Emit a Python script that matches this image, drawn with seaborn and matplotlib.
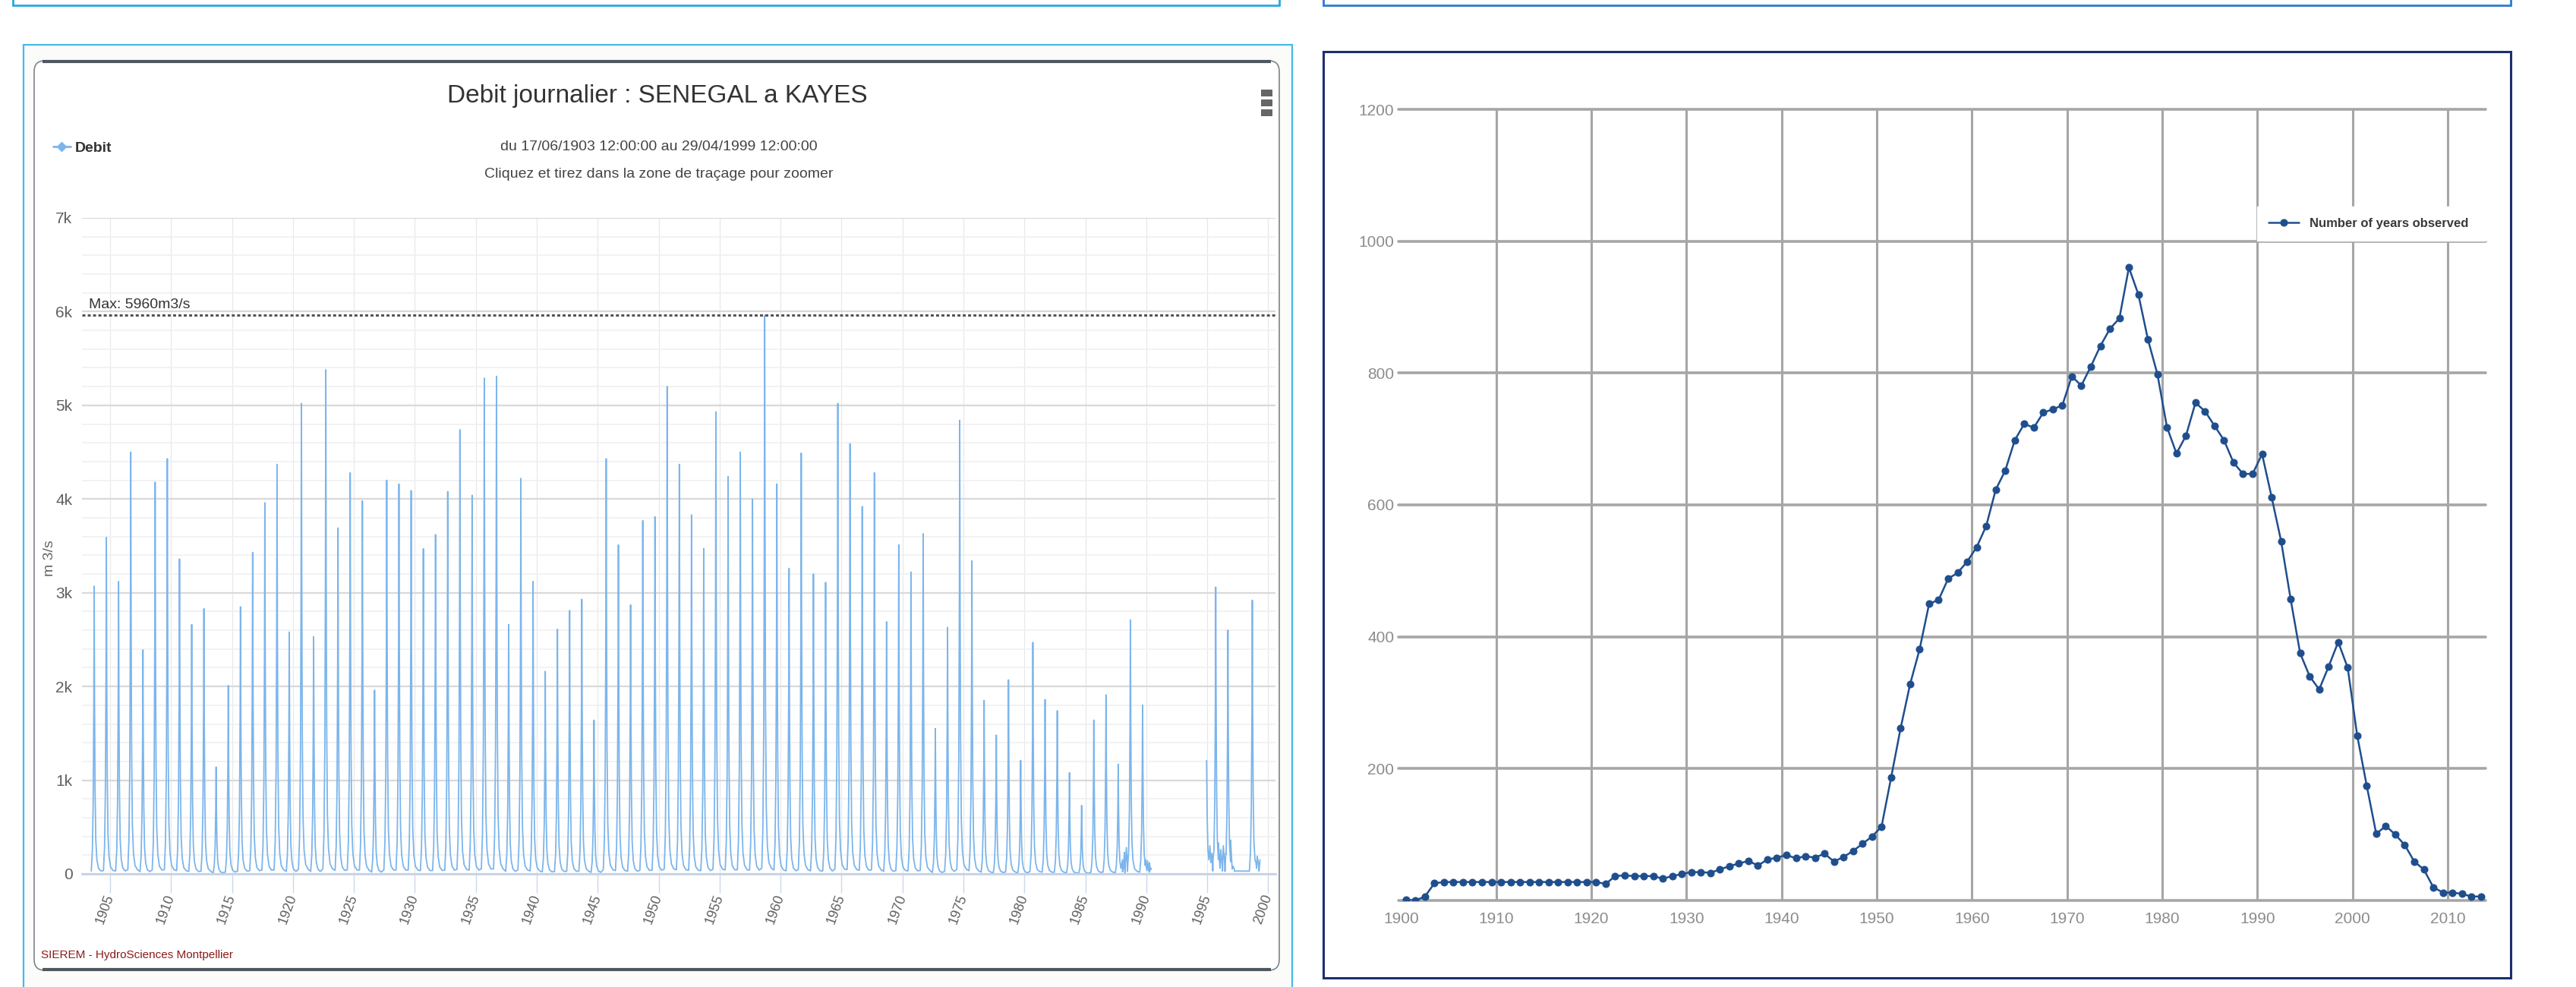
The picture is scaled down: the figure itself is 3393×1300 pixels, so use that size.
import numpy as np
import pandas as pd
import matplotlib
matplotlib.use('Agg')
import matplotlib.pyplot as plt
import seaborn as sns
from matplotlib.patches import Rectangle, FancyBboxPatch
from matplotlib.lines import Line2D
from matplotlib.ticker import MultipleLocator, FuncFormatter

# ---------------- left chart: daily discharge of the Senegal at Kayes ----------------
# annual flood peak (m3/s), read off each spike
flood_year = [1903, 1904, 1905, 1906, 1907, 1908, 1909,
              1910, 1911, 1912, 1913, 1914, 1915, 1916, 1917, 1918, 1919,
              1920, 1921, 1922, 1923, 1924, 1925, 1926, 1927, 1928, 1929,
              1930, 1931, 1932, 1933, 1934, 1935, 1936, 1937, 1938, 1939,
              1940, 1941, 1942, 1943, 1944, 1945, 1946, 1947, 1948, 1949,
              1950, 1951, 1952, 1953, 1954, 1955, 1956, 1957, 1958, 1959,
              1960, 1961, 1962, 1963, 1964, 1965, 1966, 1967, 1968, 1969,
              1970, 1971, 1972, 1973, 1974, 1975, 1976, 1977, 1978, 1979,
              1980, 1981, 1982, 1983, 1984, 1985, 1986, 1987, 1988, 1989,
              1995, 1996, 1998]
flood_peak = [3070, 3590, 3120, 4500, 2390, 4180, 4430,
              3360, 2660, 2830, 1140, 2010, 2850, 3430, 3960, 4370, 2580,
              5020, 2530, 5380, 3690, 4280, 3980, 1960, 4200, 4160, 4090,
              3470, 3620, 4080, 4740, 4040, 5290, 5310, 2660, 4220, 3120,
              2160, 2610, 2810, 2930, 1640, 4430, 3510, 2870, 3770, 3810,
              5200, 4370, 3830, 3470, 4930, 4240, 4500, 4000, 5960, 4160,
              3260, 4490, 3200, 3110, 5020, 4590, 3920, 4280, 2690, 3510,
              3220, 3630, 1550, 2630, 4840, 3340, 1850, 1480, 2070, 1210,
              2470, 1860, 1740, 1080, 730, 1640, 1910, 1170, 2710, 1800,
              3060, 2600, 2920]
max_flow = 5960

# typical yearly hydrograph seen on the spikes: offset from 1 January (years), share of the peak
shape_offset = [0.46, 0.55, 0.62, 0.67, 0.70, 0.73, 0.77, 0.83, 0.92, 1.05, 1.25]
shape_share = [0.01, 0.08, 0.25, 0.60, 1.00, 0.60, 0.30, 0.12, 0.05, 0.02, 0.01]

# noisy low flows at the end of the record (decimal year, m3/s)
noise_t = [1988.05, 1988.13, 1988.21, 1988.29, 1988.37, 1988.45, 1988.53,
           1989.93, 1990.02, 1990.10, 1990.18, 1990.26, 1990.34, 1990.42,
           1994.95, 1995.00, 1995.06, 1995.14, 1995.22, 1995.30, 1995.38, 1995.48,
           1995.92, 1996.02, 1996.12, 1996.22, 1996.32, 1996.42, 1996.52,
           1996.92, 1997.02, 1997.12, 1997.22, 1997.32,
           1998.90, 1999.00, 1999.10, 1999.20, 1999.33]
noise_q = [150, 60, 230, 90, 280, 110, 200,
           150, 60, 140, 50, 120, 40, 60,
           1210, 600, 250, 150, 300, 120, 220, 160,
           330, 120, 260, 90, 300, 140, 220,
           360, 120, 80, 50, 30,
           200, 120, 190, 110, 150]

# ---------------- right chart: number of years observed ----------------
obs_year = list(range(1900, 2014))
obs_count = [1, 0, 6, 26, 28, 28, 28, 28, 28, 28,
             28, 28, 28, 28, 28, 28, 28, 28, 28, 28,
             28, 25, 37, 38, 37, 37, 37, 33, 37, 40,
             43, 43, 42, 47, 52, 56, 60, 53, 62, 65,
             69, 64, 67, 65, 71, 59, 66, 75, 86, 97,
             112, 186, 261, 328, 381, 450, 456, 488, 497, 514,
             536, 568, 623, 652, 698, 723, 717, 740, 745, 751,
             795, 781, 810, 841, 867, 883, 960, 919, 851, 798,
             718, 678, 705, 755, 742, 720, 698, 664, 647, 647,
             677, 612, 545, 457, 375, 340, 320, 355, 392, 353,
             250, 174, 101, 113, 100, 84, 59, 47, 20, 12,
             12, 10, 6, 6]
obs_ticks = list(range(1900, 2011, 10))

# build the daily-like series
rows = []
for y, p in zip(flood_year, flood_peak):
    for o, s in zip(shape_offset, shape_share):
        rows.append((y + o, s * p))
rows += list(zip(noise_t, noise_q))
flow = pd.DataFrame(rows, columns=['t', 'q']).sort_values('t')
flow['seg'] = np.where(flow['t'] < 1992, 'a', 'b')

sns.set_theme(style='white')
plt.rcParams['font.family'] = ['Liberation Sans', 'DejaVu Sans']

W, H = 3393, 1300
fig = plt.figure(figsize=(W / 100, H / 100), dpi=100)

# background layer in pixel coordinates
bg = fig.add_axes([0, 0, 1, 1])
bg.set_xlim(0, W)
bg.set_ylim(H, 0)
bg.axis('off')
bg.set_zorder(0)

bg.add_patch(Rectangle((17, -30), 1668, 37, fill=False, edgecolor='#27a9e1', lw=2))
bg.add_patch(Rectangle((1743, -30), 1564, 37, fill=False, edgecolor='#2b7bd1', lw=2))
bg.add_patch(Rectangle((31, 59), 1671, 1300, facecolor='#fbfbfa', edgecolor='#45b9ea', lw=1.6))
bg.add_patch(FancyBboxPatch((45, 80), 1640, 1198, boxstyle='round,pad=0,rounding_size=14',
                            facecolor='white', edgecolor='#7d848b', lw=1.2))
bg.plot([56, 1674], [81, 81], color='#4e5760', lw=3, solid_capstyle='butt')
bg.plot([56, 1674], [1277, 1277], color='#4e5760', lw=3, solid_capstyle='butt')
bg.add_patch(Rectangle((1743, 68), 1564, 1220, facecolor='white', edgecolor='#1c2f6e', lw=2.2))

bg.text(866, 127, 'Debit journalier : SENEGAL a KAYES', ha='center', va='center',
        fontsize=24, color='#333333')
bg.text(868, 193, 'du 17/06/1903 12:00:00 au 29/04/1999 12:00:00', ha='center', va='center',
        fontsize=14, color='#444444')
bg.text(868, 230, 'Cliquez et tirez dans la zone de traçage pour zoomer', ha='center', va='center',
        fontsize=14, color='#444444')
for yb in [118, 131, 144]:
    bg.add_patch(Rectangle((1661, yb), 15, 9, facecolor='#666666', edgecolor='none'))
bg.text(65, 735, 'm 3/s', rotation=90, ha='center', va='center', fontsize=14, color='#666666')
bg.text(54, 1258, 'SIEREM - HydroSciences Montpellier', ha='left', va='center',
        fontsize=11, color='#8b1a1a')
deb = Line2D([], [], color='#7cb5ec', lw=2, marker='D', markersize=6)
bg.legend([deb], ['Debit'], loc='center left', bbox_to_anchor=(52, 195),
          bbox_transform=bg.transData, frameon=False, handlelength=1.2,
          handletextpad=0.3, prop={'size': 14, 'weight': 'bold'}, labelcolor='#333333')

# ---------------- left axes ----------------
ax1 = fig.add_axes([108 / W, 1 - 1151 / H, 1572 / W, 864 / H])
ax1.set_zorder(1)
ax1.patch.set_alpha(0)
sns.lineplot(data=flow, x='t', y='q', units='seg', estimator=None, sort=False,
             color='#7cb5ec', lw=1.3, ax=ax1, legend=False)
ax1.axhline(max_flow, color='#555555', lw=2.2, ls=(0, (1.3, 1.0)), zorder=3)
ax1.annotate(f'Max: {max_flow}m3/s', xy=(0.006, max_flow), xycoords=('axes fraction', 'data'),
             xytext=(0, 4), textcoords='offset points', va='bottom', fontsize=14, color='#333333')
ax1.set_xlim(1902.7, 2000.6)
ax1.set_ylim(0, 7000)
ax1.set_xticks(list(range(1905, 2001, 5)))
ax1.set_yticks(list(range(0, 7001, 1000)))
ax1.yaxis.set_major_formatter(FuncFormatter(lambda v, _: '0' if v == 0 else f'{int(v / 1000)}k'))
ax1.yaxis.set_minor_locator(MultipleLocator(200))
ax1.grid(axis='y', which='major', color='#d9d9d9', lw=1.6)
ax1.grid(axis='y', which='minor', color='#f0f0f0', lw=1.2)
ax1.grid(axis='x', which='major', color='#e8e8e8', lw=0.9)
ax1.tick_params(axis='y', which='both', length=0, pad=9, labelsize=15, labelcolor='#606060')
ax1.tick_params(axis='x', length=18, width=1, color='#ccd6eb', direction='out', pad=2,
                labelsize=13, labelcolor='#606060', bottom=True)
for lab in ax1.get_xticklabels():
    lab.set_rotation(70)
    lab.set_ha('right')
    lab.set_va('center')
    lab.set_rotation_mode('anchor')
for s in ['top', 'right', 'left']:
    ax1.spines[s].set_visible(False)
ax1.spines['bottom'].set_color('#c8d2e6')
ax1.spines['bottom'].set_linewidth(2)
ax1.set_xlabel('')
ax1.set_ylabel('')

# ---------------- right axes ----------------
ax2 = fig.add_axes([1842 / W, 1 - 1186 / H, 1432 / W, 1042 / H])
ax2.set_zorder(1)
ax2.patch.set_alpha(0)
sns.lineplot(x=obs_year, y=obs_count, marker='o', markersize=6.5, color='#1f4e8d',
             markeredgecolor='#1f4e8d', lw=1.8, ax=ax2, label='Number of years observed')
ax2.set_xlim(1899.22, 2013.5)
ax2.set_ylim(0, 1200)
ax2.set_xticks([d - 0.5 for d in obs_ticks])
ax2.set_xticklabels([str(d) for d in obs_ticks])
ax2.set_yticks(list(range(0, 1201, 200)))
ax2.set_yticklabels([''] + [str(v) for v in range(200, 1201, 200)])
ax2.grid(axis='y', color='#a6a6a6', lw=2.6)
ax2.grid(axis='x', color='#a6a6a6', lw=2.2)
for gl in ax2.get_ygridlines():
    gl.set_clip_on(False)
ax2.get_xgridlines()[0].set_visible(False)
ax2.tick_params(axis='both', length=0, labelsize=15, labelcolor='#8c8c8c')
ax2.tick_params(axis='x', pad=11)
ax2.tick_params(axis='y', pad=4)
for s in ax2.spines.values():
    s.set_visible(False)
ax2.set_xlabel('')
ax2.set_ylabel('')
ax2.legend(loc='center left', bbox_to_anchor=(0.79, 0.831, 0.21, 0.05), mode='expand',
           borderaxespad=0, frameon=True, fancybox=False, framealpha=1, edgecolor='white',
           facecolor='white', handlelength=2.4, handletextpad=0.8, borderpad=0.9,
           prop={'size': 12, 'weight': 'bold'}, labelcolor='#3a3a3a')

fig.savefig('out.png', dpi=100)
